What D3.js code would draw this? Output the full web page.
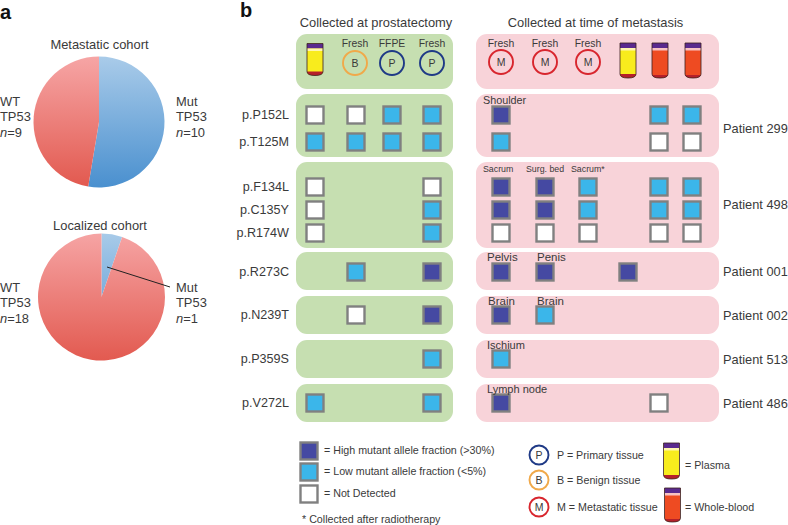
<!DOCTYPE html>
<html><head><meta charset="utf-8">
<script src="https://cdn.jsdelivr.net/npm/d3@7"></script>
<style>html,body{margin:0;padding:0;background:#fff}svg{display:block}text{font-family:"Liberation Sans",Arial,sans-serif;fill:#3a3a3a}</style>
</head><body><svg id="c" width="788" height="525"></svg>
<script>
const pieMetastatic = [{k:"Mut",v:10},{k:"WT",v:9}];
const pieLocalized = [{k:"Mut",v:1},{k:"WT",v:18}];
const mutations = ["p.P152L","p.T125M","p.F134L","p.C135Y","p.R174W","p.R273C","p.N239T","p.P359S","p.V272L"];
const prostatectomy = [
 "N N L L","L L L L","N - - N","N - - L","N - - L","- L - H","- N - H","- - - L","L - - L"];
const metastasis = [
 "H - - - L L","L - - - N N","H H L - L L","H H L - L L","N N N - N N","H H - H - -","H L - - - -","L - - - - -","H - - - N -"];
const patients = [["Patient 299",128],["Patient 498",204],["Patient 001",271],["Patient 002",315],["Patient 513",359],["Patient 486",403]];
const siteLabels = [["Shoulder",483,100,10.8],["Sacrum",483,169,8.8],["Surg. bed",526,169,8.8],["Sacrum*",571,169,8.8],["Pelvis",487,257,11.5],["Penis",537,257,11.5],["Brain",488,301,11.5],["Brain",537,301,11.5],["Ischium",487,345,11],["Lymph node",487,389,11]];
const legendSquares = [["H","= High mutant allele fraction (>30%)"],["L","= Low mutant allele fraction (<5%)"],["N","= Not Detected"]];
const legendCircles = [["P","P = Primary tissue"],["B","B = Benign tissue"],["M","M = Metastatic tissue"]];

const svg = d3.select("#c");
const defs = svg.append("defs");
function T(x,y,s,size=12.9,anchor="start",extra={}){const t=svg.append("text").attr("x",x).attr("y",y).attr("font-size",size).attr("text-anchor",anchor).attr("dominant-baseline","central").text(s);
 Object.entries(extra).forEach(([k,v])=>t.attr(k,v));return t;}
function ugrad(id,a,b,y1,y2){const g=defs.append("linearGradient").attr("id",id).attr("gradientUnits","userSpaceOnUse").attr("x1",0).attr("x2",0).attr("y1",y1).attr("y2",y2);
 g.append("stop").attr("offset",0).attr("stop-color",a);g.append("stop").attr("offset",1).attr("stop-color",b);}
ugrad("blueU","#a9cbe9","#4a90cf",-65,65);ugrad("redU","#f6a5a5","#e2594f",-65,65);
function drawPie(data,cx,cy,r){
 const pie=d3.pie().sort(null).value(d=>d.v);
 const arc=d3.arc().innerRadius(0).outerRadius(r);
 const g=svg.append("g").attr("transform",`translate(${cx},${cy})`);
 g.selectAll("path").data(pie(data)).join("path").attr("d",arc).attr("fill",d=>d.data.k==="Mut"?"url(#blueU)":"url(#redU)");
}

T(0,12,"a",20,"start",{"font-weight":"bold",style:"fill:#111"});
T(240,10,"b",20,"start",{"font-weight":"bold",style:"fill:#111"});
T(99.5,44,"Metastatic cohort",12.9,"middle");
T(100,225,"Localized cohort",12.9,"middle");
drawPie(pieMetastatic,99,122,65.5);
drawPie(pieLocalized,101.5,297,63.5);
svg.append("line").attr("x1",107).attr("y1",267).attr("x2",170).attr("y2",287).attr("stroke","#222").attr("stroke-width",1);
function cohortLabel(x,y,l,n){T(x,y,l);T(x,y+15.5,"TP53");
 const t=T(x,y+31,"");t.append("tspan").attr("font-style","italic").text("n");t.append("tspan").text("="+n);}
cohortLabel(0,101,"WT",9);cohortLabel(176,101,"Mut",10);
cohortLabel(0,287,"WT",18);cohortLabel(176,287,"Mut",1);

T(376,22,"Collected at prostatectomy",12.9,"middle");
T(595.5,22,"Collected at time of metastasis",12.9,"middle");

const panelRows=[[34,89],[94,157],[162,248],[252,290],[296,334],[340,378],[384,422]];
panelRows.forEach(([a,b])=>{
 svg.append("rect").attr("x",296).attr("y",a).attr("width",157).attr("height",b-a).attr("rx",11).attr("fill","#c6dfb1");
 svg.append("rect").attr("x",476).attr("y",a).attr("width",243).attr("height",b-a).attr("rx",11).attr("fill","#f8d3d9");
});

const colG=d3.scaleOrdinal().domain([0,1,2,3]).range([315,356,392,432]);
const colP=d3.scaleOrdinal().domain([0,1,2,3,4,5]).range([501,545,588,628,659,692]);
const rowY=d3.scaleOrdinal().domain(mutations).range([115,142,187,210,233,272,315,359,403]);
const fills={H:"#4549a2",L:"#3bb6ea",N:"#ffffff"};
function square(x,y,s){svg.append("rect").attr("x",x-8.5).attr("y",y-8.5).attr("width",17).attr("height",17).attr("fill",fills[s]).attr("stroke","#808080").attr("stroke-width",2.4);}
mutations.forEach((m,i)=>{
 T(289,rowY(m),m,12.6,"end");
 prostatectomy[i].split(" ").forEach((s,j)=>{if(s!=="-")square(colG(j),rowY(m),s);});
 metastasis[i].split(" ").forEach((s,j)=>{if(s!=="-")square(colP(j),rowY(m),s);});
});
patients.forEach(([p,y])=>T(723,y,p,12.8));
siteLabels.forEach(([s,x,y,z])=>T(x,y,s,z));

const ringCol={P:"#1f3a86",B:"#f0a94a",M:"#d8262e"};
function ring(x,y,l,r=12){svg.append("circle").attr("cx",x).attr("cy",y).attr("r",r).attr("fill","none").attr("stroke",ringCol[l]).attr("stroke-width",1.9);
 T(x,y,l,10.5,"middle");}
[[355,63,"B","Fresh"],[392,63,"P","FFPE"],[432,63,"P","Fresh"]].forEach(([x,y,l,t])=>{ring(x,y,l);T(x,43,t,10.4,"middle");});
[[501,62,"M"],[545,62,"M"],[588,62,"M"]].forEach(([x,y,l])=>{ring(x,y,l);T(x,43,"Fresh",10.4,"middle");});

function tube(cx,top,h,kind){
 const w=16,l=cx-w/2;
 const bottomR=4;
 const path=`M${l},${top}H${l+w}V${top+h-bottomR}Q${l+w},${top+h} ${cx},${top+h}Q${l},${top+h} ${l},${top+h-bottomR}Z`;
 const id="clip"+cx+"_"+top;
 defs.append("clipPath").attr("id",id).append("path").attr("d",path);
 const g=svg.append("g").attr("clip-path",`url(#${id})`);
 const body=kind==="plasma"?"#f8ec1d":"#ee4b22";
 g.append("rect").attr("x",l).attr("y",top).attr("width",w).attr("height",h).attr("fill",body);
 g.append("rect").attr("x",l).attr("y",top).attr("width",w).attr("height",5).attr("fill","#5a2a8e");
 g.append("rect").attr("x",l).attr("y",top+5).attr("width",w).attr("height",2.5).attr("fill",kind==="plasma"?"#fff6b0":"#f7c3c3");
 g.append("rect").attr("x",l).attr("y",top+h-(kind==="plasma"?4:3)).attr("width",w).attr("height",5).attr("fill","#b5202a");
 svg.append("path").attr("d",path).attr("fill","none").attr("stroke","#3a2020").attr("stroke-width",.8);
}
tube(315,43.5,32,"plasma");
tube(628,43,35,"plasma");tube(660,43,35,"blood");tube(693,43,35,"blood");

legendSquares.forEach(([s,t],i)=>{const y=[451,472,494][i];
 square(309,y,s);T(324,y-1,t,10.7);});
T(302,519,"* Collected after radiotherapy",10.7);
legendCircles.forEach(([l,t],i)=>{const y=[455,480,507][i];
 ring(539,y,l,9.5);T(557,y,t,10.7);});
tube(671.5,443,36,"plasma");T(685,465,"= Plasma",10.7);
tube(672.5,488,34,"blood");T(685,507,"= Whole-blood",10.7);
</script></body></html>
